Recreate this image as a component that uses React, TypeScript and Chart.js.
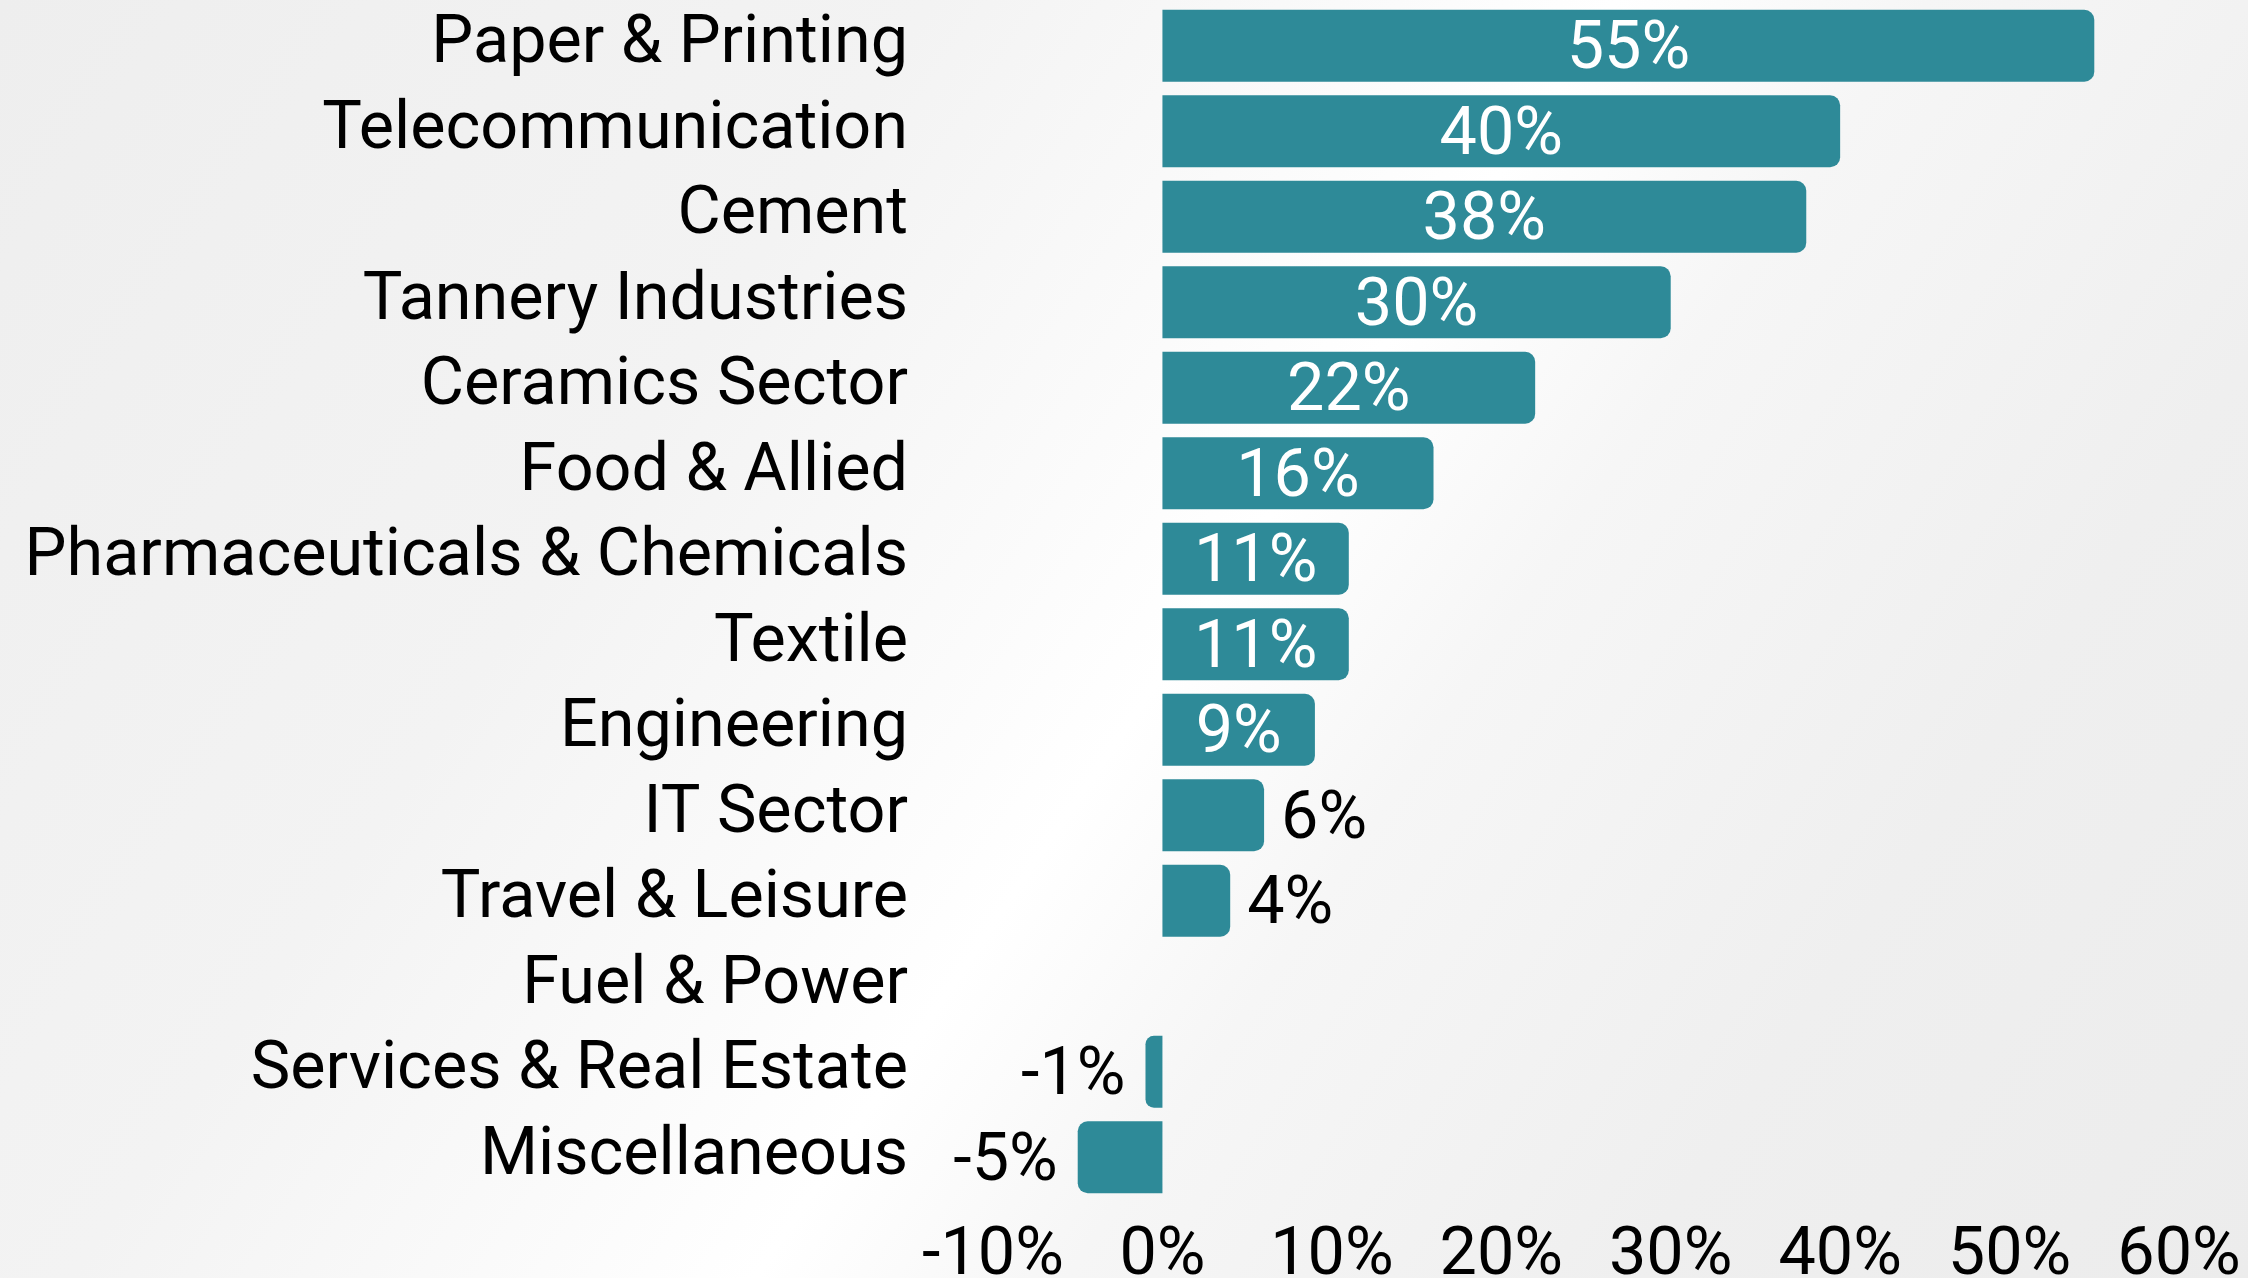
import React, { useEffect, useRef } from "react";
import { Chart, registerables } from "chart.js";

Chart.register(...registerables);

const categories = [
  "Paper & Printing",
  "Telecommunication",
  "Cement",
  "Tannery Industries",
  "Ceramics Sector",
  "Food & Allied",
  "Pharmaceuticals & Chemicals",
  "Textile",
  "Engineering",
  "IT Sector",
  "Travel & Leisure",
  "Fuel & Power",
  "Services & Real Estate",
  "Miscellaneous",
];

const values = [55, 40, 38, 30, 22, 16, 11, 11, 9, 6, 4, 0, -1, -5];

const xMin = -10;
const xMax = 60;
const xStep = 10;

const FONT = "Roboto";
const FONT_SIZE = 66.5;
const BAR_COLOR = "#2e8a98";

const labelPlugin = {
  id: "barValueLabels",
  afterDatasetsDraw(chart: any) {
    const ctx = chart.ctx;
    const meta = chart.getDatasetMeta(0);
    const data = chart.data.datasets[0].data as number[];
    ctx.save();
    ctx.font = `400 ${FONT_SIZE}px ${FONT}`;
    ctx.textBaseline = "middle";
    meta.data.forEach((el: any, i: number) => {
      const v = data[i];
      if (v === 0) return;
      const text = `${v}%`;
      const tw = ctx.measureText(text).width;
      const x = el.x;
      const base = el.base;
      const w = Math.abs(x - base);
      const y = el.y + 6;
      if (w > tw + 30) {
        ctx.fillStyle = "#ffffff";
        ctx.textAlign = "center";
        ctx.fillText(text, (x + base) / 2, y);
      } else if (v > 0) {
        ctx.fillStyle = "#000000";
        ctx.textAlign = "left";
        ctx.fillText(text, x + 17, y);
      } else {
        ctx.fillStyle = "#000000";
        ctx.textAlign = "right";
        ctx.fillText(text, x - 20, y);
      }
    });
    ctx.restore();
  },
};

export default function App() {
  const canvasRef = useRef<HTMLCanvasElement | null>(null);

  useEffect(() => {
    document.body.style.margin = "0";
    const canvas = canvasRef.current;
    if (!canvas) return;
    const chart = new Chart(canvas, {
      type: "bar",
      data: {
        labels: categories,
        datasets: [
          {
            data: values,
            backgroundColor: BAR_COLOR,
            borderRadius: 10,
            borderSkipped: "start",
            barPercentage: 0.84,
            categoryPercentage: 1,
          },
        ],
      },
      options: {
        indexAxis: "y",
        animation: false,
        responsive: false,
        maintainAspectRatio: false,
        layout: { padding: { top: 3, right: 69, bottom: 0, left: 0 } },
        plugins: {
          legend: { display: false },
          tooltip: { enabled: false },
        },
        scales: {
          x: {
            min: xMin,
            max: xMax,
            grid: { display: false, drawTicks: false },
            border: { display: false },
            ticks: {
              stepSize: xStep,
              color: "#000000",
              padding: 17,
              maxRotation: 0,
              minRotation: 0,
              font: { family: FONT, size: FONT_SIZE },
              callback: (v: any) => `${v}%`,
            },
            afterFit: (scale: any) => {
              scale.height = 96;
              scale.paddingLeft = 0;
              scale.paddingRight = 0;
            },
          },
          y: {
            grid: { display: false, drawTicks: false },
            border: { display: false },
            ticks: {
              color: "#000000",
              padding: 85,
              font: { family: FONT, size: FONT_SIZE },
            },
            afterFit: (scale: any) => {
              scale.width = 993;
              scale.paddingTop = 0;
              scale.paddingBottom = 0;
            },
          },
        },
      },
      plugins: [labelPlugin],
    });
    if ((document as any).fonts && (document as any).fonts.ready) {
      (document as any).fonts.ready.then(() => {
        try {
          chart.update();
        } catch (e) {}
      });
    }
    return () => chart.destroy();
  }, []);

  return (
    <div
      style={{
        width: 2248,
        height: 1278,
        overflow: "hidden",
        background:
          "linear-gradient(124deg, #eeeeee 0%, #f3f3f3 30%, #fbfbfb 45%, #ffffff 52%, #f6f6f6 62%, #efefef 80%, #ececec 100%)",
      }}
    >
      <canvas ref={canvasRef} width={2248} height={1296} style={{ display: "block" }} />
    </div>
  );
}
